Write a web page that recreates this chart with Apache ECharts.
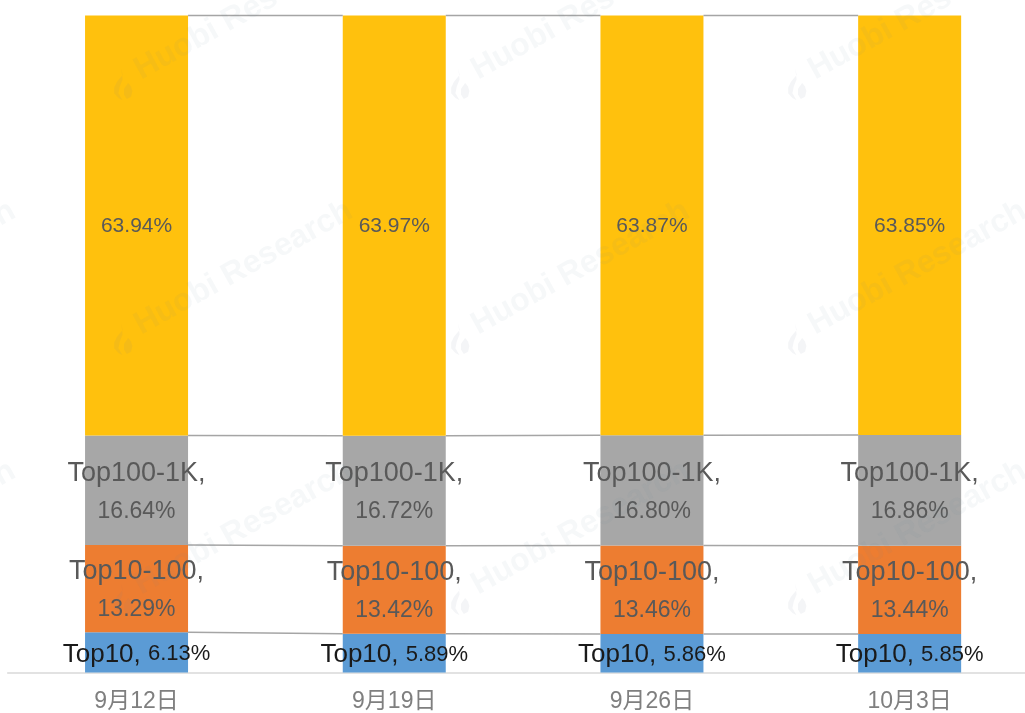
<!DOCTYPE html>
<html>
<head>
<meta charset="utf-8">
<style>
html, body { margin: 0; padding: 0; background: #fff; }
#main { width: 1025px; height: 713px; }
</style>
<script src="https://cdn.jsdelivr.net/npm/echarts@6/dist/echarts.min.js"></script>
</head>
<body>
<div id="main"></div>
<script>
const categories = ['9月12日', '9月19日', '9月26日', '10月3日']
const top10 = [6.13, 5.89, 5.86, 5.85]
const top10To100 = [13.29, 13.42, 13.46, 13.44]
const top100To1k = [16.64, 16.72, 16.80, 16.86]
const rest = [63.94, 63.97, 63.87, 63.85]
const seriesNames = ['Top10', 'Top10-100', 'Top100-1K', '']
const seriesValues = [top10, top10To100, top100To1k, rest]
const seriesColors = ['#5b9bd5', '#ed7d31', '#a7a7a7', '#ffc10d']

const BAR_WIDTH = 103
const fontFamily = '"Liberation Sans", "Noto Sans CJK SC", sans-serif'

// running totals, the series lines between bars sit on these
const tops = seriesValues.map((vals, s) =>
    vals.map((v, i) => seriesValues.slice(0, s + 1).reduce((sum, a) => sum + a[i], 0)))

function barLabel(s) {
    const name = seriesNames[s]
    const color = s === 0 ? '#1a1a1a' : '#595959'
    const nameSize = s === 0 ? 26 : 27
    const pctSize = s === 3 ? 21 : (s === 0 ? 22 : 23)
    return {
        show: true,
        position: 'inside',
        offset: [0, s === 3 ? 1 : 2],
        formatter: function (p) {
            const pct = '{pct|' + p.value.toFixed(2) + '%}'
            if (s === 3) return pct
            if (s === 0) return '{name|' + name + ', }' + pct
            return '{name|' + name + ',}\n' + pct
        },
        rich: {
            name: { color: color, fontFamily: fontFamily, fontSize: nameSize, lineHeight: 38 },
            pct: { color: color, fontFamily: fontFamily, fontSize: pctSize, lineHeight: 38 }
        }
    }
}

const barSeries = seriesValues.map((vals, s) => ({
    type: 'bar',
    stack: 'share',
    name: seriesNames[s],
    data: vals,
    barWidth: BAR_WIDTH,
    itemStyle: { color: seriesColors[s] },
    label: barLabel(s),
    z: 2
}))

// Excel style series lines, right edge of one bar to left edge of the next
const lineData = []
tops.forEach((vals) => {
    for (let i = 0; i < vals.length - 1; i++) lineData.push([i, vals[i], vals[i + 1]])
})
const lineSeries = {
    type: 'custom',
    data: lineData,
    encode: { x: 0, y: 1 },
    silent: true,
    z: 3,
    renderItem: function (params, api) {
        const a = api.coord([api.value(0), api.value(1)])
        const b = api.coord([api.value(0) + 1, api.value(2)])
        return {
            type: 'line',
            shape: { x1: a[0] + BAR_WIDTH / 2, y1: a[1], x2: b[0] - BAR_WIDTH / 2, y2: b[1] },
            style: { stroke: '#a5a5a5', lineWidth: 1.5 }
        }
    }
}

// watermark repeats on a fixed tile, text runs up to the right
const watermarkGraphic = []
const flameLeft = [[8, 0], [9, 6], [5, 12], [3, 17], [3, 22], [6, 26], [9, 28], [6, 22], [7, 16], [9, 10]]
const flameRight = [[13, 13], [10, 18], [10, 23], [12, 27], [15, 25], [16, 20], [15, 16]]
for (let col = 0; col < 4; col++) {
    for (let row = 0; row < 3; row++) {
        const x = 113 + (col - 1) * 337
        const y = [85, 340, 600][row]
        watermarkGraphic.push({
            type: 'text',
            x: x + 24,
            y: y - 13,
            rotation: Math.PI / 180 * 29,
            silent: true,
            z: 10,
            style: {
                text: 'Huobi Research',
                fontFamily: 'Liberation Sans',
                fontWeight: 'bold',
                fontSize: 32,
                fill: 'rgba(110,130,150,0.06)',
                verticalAlign: 'middle'
            }
        })
        ;[flameLeft, flameRight].forEach((points) => {
            watermarkGraphic.push({
                type: 'polygon',
                x: x - 3,
                y: y - 17,
                scaleX: 1.4,
                scaleY: 1.15,
                silent: true,
                z: 10,
                shape: { points: points },
                style: { fill: 'rgba(110,130,150,0.08)' }
            })
        })
    }
}

const myChart = echarts.init(document.getElementById('main'), null, { renderer: 'canvas' })
myChart.setOption({
    animation: false,
    backgroundColor: '#fff',
    grid: { left: 7.7, width: 1030.8, top: 15.5, height: 657, outerBoundsMode: 'none' },
    xAxis: {
        type: 'category',
        data: categories,
        axisTick: { show: false },
        axisLine: { lineStyle: { color: '#d9d9d9', width: 1.5 } },
        axisLabel: {
            color: '#7f7f7f',
            fontFamily: fontFamily,
            fontSize: 23,
            margin: 18
        }
    },
    yAxis: {
        type: 'value',
        min: 0,
        max: 100,
        show: false,
        splitLine: { show: false }
    },
    graphic: watermarkGraphic,
    series: barSeries.concat([lineSeries])
})
</script>
</body>
</html>
